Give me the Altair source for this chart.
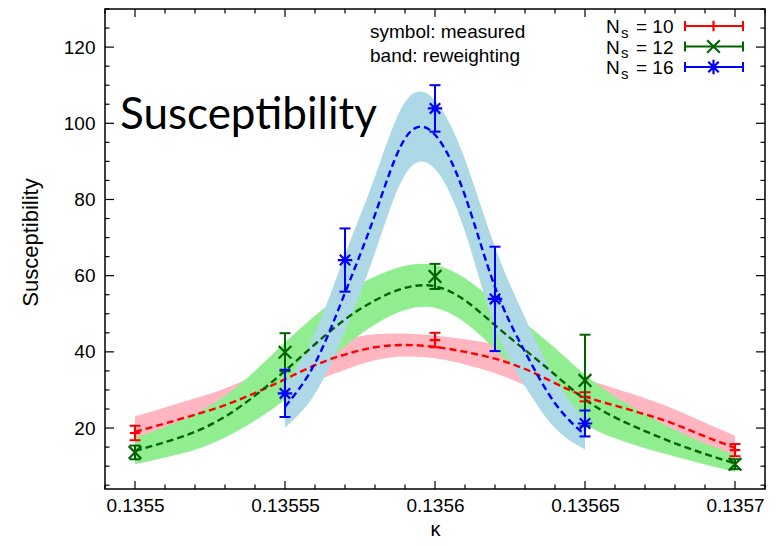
import altair as alt
import pandas as pd

# ---------------- data ----------------
kappa_grid = [0.13550, 0.13551, 0.13552, 0.13553, 0.13554, 0.13555, 0.13556,
              0.13557, 0.13558, 0.13559, 0.13560, 0.13561, 0.13562, 0.13563,
              0.13564, 0.13565, 0.13566, 0.13567, 0.13568, 0.13569, 0.13570]

# reweighting bands (centre line and half width)
red_center = [19.0, 21.2, 23.5, 26.0, 29.2, 32.8, 36.5, 39.3, 41.2, 41.8, 41.3,
              40.0, 38.2, 35.5, 31.8, 28.3, 25.9, 23.6, 21.0, 17.8, 14.8]
red_hw = [4.1, 4.2, 4.3, 4.4, 4.5, 4.5, 4.3, 4.0, 3.4, 3.0, 3.0,
          3.3, 3.8, 4.3, 4.6, 4.7, 4.5, 4.2, 3.9, 3.6, 3.2]

green_center = [14.0, 16.3, 19.0, 23.0, 28.5, 35.0, 42.0, 48.5, 53.5, 56.8, 57.2,
                53.5, 47.0, 40.5, 34.0, 27.5, 22.8, 19.2, 16.0, 13.2, 10.7]
green_hw = [3.5, 4.0, 4.7, 5.5, 6.5, 7.5, 7.5, 7.0, 6.3, 5.8, 5.6,
            5.8, 6.3, 7.0, 7.0, 6.5, 5.5, 4.5, 3.5, 2.8, 2.2]

blue_kappa = [0.13555, 0.13556, 0.13557, 0.13558, 0.13559, 0.13560,
              0.13561, 0.13562, 0.13563, 0.13564, 0.13565]
blue_center = [25.6, 37.0, 55.5, 76.0, 96.0, 97.0, 81.0, 57.0, 40.0, 26.5, 18.2]
blue_hw = [5.5, 8.0, 10.0, 10.0, 9.5, 9.0, 9.5, 10.5, 9.0, 6.5, 3.8]

# measured points
red_k = [0.1355, 0.1356, 0.13565, 0.1357]
red_v = [18.7, 43.1, 28.2, 14.2]
red_e = [1.9, 1.9, 1.2, 1.6]

green_k = [0.1355, 0.13555, 0.1356, 0.13565, 0.1357]
green_v = [13.6, 39.9, 59.8, 32.5, 10.5]
green_e = [1.8, 5.0, 3.3, 12.0, 1.3]

blue_k = [0.13555, 0.13557, 0.1356, 0.13562, 0.13565]
blue_v = [29.1, 64.1, 103.9, 53.9, 21.2]
blue_e = [6.2, 8.3, 6.1, 13.7, 3.4]

legend_ns = ["10", "12", "16"]

x_major = [0.1355, 0.13555, 0.1356, 0.13565, 0.1357]
x_minor = [0.13549, 0.13551, 0.13552, 0.13553, 0.13554, 0.13556, 0.13557,
           0.13558, 0.13559, 0.13561, 0.13562, 0.13563, 0.13564, 0.13566,
           0.13567, 0.13568, 0.13569, 0.13571]
y_major = [20, 40, 60, 80, 100, 120]
y_minor = [5, 10, 15, 25, 30, 35, 45, 50, 55, 65, 70, 75, 85, 90, 95,
           105, 110, 115, 125, 130]

# ---------------- layout / style ----------------
W, H = 660, 480
FONT = "Liberation Sans"
FS = 19

xs = alt.Scale(domain=[0.13549, 0.13571], nice=False, zero=False)
ys = alt.Scale(domain=[4, 130], nice=False, zero=False)

xaxis = alt.Axis(values=x_major, format=".5~f", title="κ", grid=False,
                 ticks=False, domain=False, labelPadding=7,
                 labelFont=FONT, labelFontSize=FS, labelColor="black",
                 titleFont=FONT, titleFontSize=20, titleFontWeight="normal",
                 titleColor="black", titleY=46, titleBaseline="alphabetic",
                 labelFlush=False)
yaxis = alt.Axis(values=y_major, format="d", title="Susceptibility", grid=False,
                 ticks=False, domain=False, labelPadding=10,
                 labelFont=FONT, labelFontSize=FS, labelColor="black",
                 titleFont=FONT, titleFontSize=22, titleFontWeight="normal",
                 titleColor="black", titleX=-68, titleY=233,
                 titleBaseline="alphabetic", titleAngle=-90, titleAlign="center")

COL = {"r": "#ff0000", "g": "#006400", "b": "#0000ff"}
BAND = {"r": "#ffb6c1", "g": "#90ee90", "b": "#add8e6"}
SHAPE = {
    "r": "M-1,0L1,0M0,-1L0,1",
    "g": "M-1,-1L1,1M-1,1L1,-1",
    "b": "M-1,0L1,0M0,-1L0,1M-0.72,-0.72L0.72,0.72M-0.72,0.72L0.72,-0.72",
}
SIZE = {"r": 110, "g": 160, "b": 210}


def band_df(k, c, hw):
    return pd.DataFrame({"kappa": k, "c": c,
                         "lo": [a - b for a, b in zip(c, hw)],
                         "hi": [a + b for a, b in zip(c, hw)]})


def pts_df(k, v, e):
    return pd.DataFrame({"kappa": k, "v": v,
                         "lo": [a - b for a, b in zip(v, e)],
                         "hi": [a + b for a, b in zip(v, e)]})


bands = {"r": band_df(kappa_grid, red_center, red_hw),
         "g": band_df(kappa_grid, green_center, green_hw),
         "b": band_df(blue_kappa, blue_center, blue_hw)}
pts = {"r": pts_df(red_k, red_v, red_e),
       "g": pts_df(green_k, green_v, green_e),
       "b": pts_df(blue_k, blue_v, blue_e)}

X = alt.X("kappa:Q", scale=xs, axis=xaxis)

layers = []
# bands
for s in "rgb":
    layers.append(alt.Chart(bands[s]).mark_area(color=BAND[s], opacity=1,
                                                interpolate="natural").encode(
        x=X, y=alt.Y("lo:Q", scale=ys, axis=yaxis), y2="hi:Q"))
# dashed centre lines
for s in "rgb":
    layers.append(alt.Chart(bands[s]).mark_line(color=COL[s], strokeWidth=2.4,
                                                strokeDash=[7, 4],
                                                interpolate="natural").encode(
        x=X, y=alt.Y("c:Q", scale=ys, axis=yaxis)))
# error bars and symbols
for s in "rgb":
    d = pts[s]
    layers.append(alt.Chart(d).mark_rule(color=COL[s], strokeWidth=2).encode(
        x=X, y=alt.Y("lo:Q", scale=ys, axis=yaxis), y2="hi:Q"))
    for f in ("lo", "hi"):
        layers.append(alt.Chart(d).mark_tick(color=COL[s], orient="horizontal",
                                             size=11, thickness=2, opacity=1).encode(
            x=X, y=alt.Y(f"{f}:Q", scale=ys, axis=yaxis)))
    layers.append(alt.Chart(d).mark_point(shape=SHAPE[s], filled=False,
                                          color=COL[s], strokeWidth=2.2,
                                          size=SIZE[s], opacity=1).encode(
        x=X, y=alt.Y("v:Q", scale=ys, axis=yaxis)))

# inward ticks on all four sides
xt_major = pd.DataFrame({"t": x_major})
xt_minor = pd.DataFrame({"t": x_minor})
yt_major = pd.DataFrame({"t": y_major})
yt_minor = pd.DataFrame({"t": y_minor})
XT = alt.X("t:Q", scale=xs, axis=xaxis)
YT = alt.Y("t:Q", scale=ys, axis=yaxis)
for df, L in ((xt_major, 8), (xt_minor, 4.5)):
    layers.append(alt.Chart(df).mark_rule(color="black", strokeWidth=1.2).encode(
        x=XT, y=alt.value(H), y2=alt.value(H - L)))
    layers.append(alt.Chart(df).mark_rule(color="black", strokeWidth=1.2).encode(
        x=XT, y=alt.value(0), y2=alt.value(L)))
for df, L in ((yt_major, 9), (yt_minor, 4.5)):
    layers.append(alt.Chart(df).mark_rule(color="black", strokeWidth=1.2).encode(
        y=YT, x=alt.value(0), x2=alt.value(L)))
    layers.append(alt.Chart(df).mark_rule(color="black", strokeWidth=1.2).encode(
        y=YT, x=alt.value(W), x2=alt.value(W - L)))

one = pd.DataFrame({"a": [0]})


def txt(x, y, s, size=FS, font=FONT, baseline="alphabetic", align="left"):
    return alt.Chart(one).mark_text(text=s, font=font, fontSize=size,
                                    color="black", align=align,
                                    baseline=baseline).encode(
        x=alt.value(x), y=alt.value(y))


# annotation texts
layers.append(txt(265, 29, "symbol: measured"))
layers.append(txt(265, 53, "band: reweighting"))
layers.append(txt(15, 120, "Susceptibility", size=44, font="Lato"))

# legend
row_c = [17, 37.5, 58]
for i, s in enumerate("rgb"):
    yc = row_c[i]
    layers.append(txt(501, yc + 7, "N"))
    layers.append(txt(516, yc + 11.5, "s", size=15))
    layers.append(txt(531, yc + 7, "= " + legend_ns[i]))
    layers.append(alt.Chart(one).mark_rule(color=COL[s], strokeWidth=2).encode(
        x=alt.value(580), x2=alt.value(638), y=alt.value(yc)))
    for xx in (580, 638):
        layers.append(alt.Chart(one).mark_rule(color=COL[s], strokeWidth=2).encode(
            x=alt.value(xx), y=alt.value(yc - 5), y2=alt.value(yc + 5)))
    layers.append(alt.Chart(one).mark_point(shape=SHAPE[s], filled=False,
                                            color=COL[s], strokeWidth=2.2,
                                            size=SIZE[s], opacity=1).encode(
        x=alt.value(608.5), y=alt.value(yc)))

chart = alt.layer(*layers).properties(
    width=W, height=H,
    autosize=alt.AutoSizeParams(type="none"),
    padding={"left": 97, "top": 1, "right": 5, "bottom": 50},
    background="white",
).configure_view(stroke="black", strokeWidth=1.5)

chart.save("out.html", embed_options={"renderer": "svg", "actions": False})
